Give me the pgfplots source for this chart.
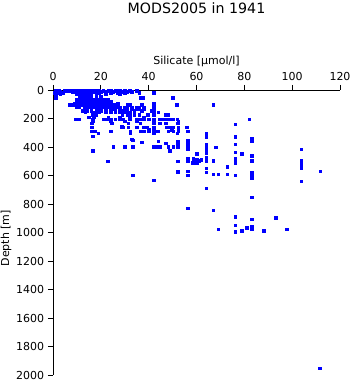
\documentclass[border=0pt]{standalone}
\usepackage{fontspec}
\setmainfont{DejaVu Sans}
\usepackage{pgfplots}
\pgfplotsset{compat=1.18}
\begin{document}
\fontsize{11bp}{13bp}\selectfont
\begin{tikzpicture}
\path[use as bounding box] (-53bp,-9bp) rectangle (298bp,375bp);
\begin{axis}[
  at={(0,0)}, anchor=south west,
  scale only axis, width=287bp, height=285bp,
  xmin=0, xmax=120, ymin=0, ymax=2000, y dir=reverse,
  axis x line*=top, axis y line*=left,
  axis line style={-, line width=0.9bp},
  every tick/.style={black, line width=0.9bp},
  tick align=outside, major tick length=5bp,
  xtick={0,20,...,120}, ytick={0,200,...,2000},
  /pgf/number format/assume math mode=true,
  /pgf/number format/1000 sep={},
  tick label style={font=\fontsize{11bp}{13bp}\selectfont},
  label style={font=\fontsize{11bp}{13bp}\selectfont},
  xlabel={Silicate [µmol/l]},
  ylabel={Depth [m]},
  xlabel style={at={(axis description cs:0.5,1)}, anchor=center, yshift=29bp},
  ylabel style={at={(axis description cs:-0.1638,0.48)}, anchor=center},
  title={MODS2005 in 1941},
  title style={font=\fontsize{14.2bp}{16bp}\selectfont, at={(axis description cs:0.5,1)}, anchor=center, yshift=82bp-6pt},
  clip=false,
]
\addplot[only marks, mark=square*, mark size=1.3bp, color=blue, mark options={draw=blue, fill=blue}] coordinates {
(1,3) (2.5,3) (5,3) (6,3) (7,3) (8,3) (9,3) (9.5,3) (10,3) (10.5,3) (11,3) (11.5,3) (12,3) (12.5,3) (13,3) (13.5,3) (14,3) (15,3) (16,3) (17,3) (18,3) (19,3) (21,3) (23,3) (24,3) (26,3) (27,3) (28,3) (30,3) (32,3) (35,3)
(1.5,10) (3,10) (8,10) (9,10) (10,10) (11,10) (12,10) (13,10) (14,10) (15,10) (16,10) (17,10) (20,10) (22,10) (25,10) (27,10) (29,10) (31,10) (33,10)
(0.5,20) (2,20) (4,20) (10,20) (11,20) (12,20) (13,20) (14,20) (15,20) (16,20) (19,20) (24,20) (27,20) (30,20) (36,20) (42,20)
(1,30) (3,30) (10,30) (11,30) (12,30) (13,30) (14,30) (15,30) (16,30) (18,30) (22,30) (28,30)
(1.3,45) (11,45) (12,45) (13,45) (14,45) (15,45) (16,45) (20,45)
(1.2,55) (11,55) (12.5,55) (14,55) (16,55) (18,55) (36.5,55) (37.5,55) (50,55)
(10,70) (11,70) (12,70) (13,70) (14,70) (15,70) (16,70) (17,70) (18,70) (19,70) (20,70) (21,70) (22,70) (23,70)
(11,82) (12,82) (13,82) (14,82) (15,82) (16,82) (17,82) (18,82) (19,82) (20,82) (21,82) (22,82) (23,82) (24,82)
(9,95) (10,95) (11,95) (12,95) (13,95) (14,95) (15,95) (16,95) (17,95) (18,95) (19,95) (20,95) (21,95) (22,95) (23,95) (24,95) (27,95) (42,95)
(7,105) (8,105) (9,105) (10,105) (11,105) (12,105) (13,105) (14,105) (15,105) (16,105) (17,105) (18,105) (19,105) (20,105) (21,105) (22,105) (23,105) (24,105) (25,105) (26,105) (31,105) (32,105) (37,105) (42,105) (51.7,105) (67,103)
(10,120) (11,120) (13,120) (15,120) (17,120) (19,120) (21,120) (23,120) (24,120) (26,120) (27,120) (28,120) (30,120) (31,120) (33,120) (35,120) (36,120) (38,120)
(14,133) (16,133) (18,133) (19,133) (20,133) (22,133) (24,133) (25,133) (26,133) (28,133) (30,133) (33,133) (35,133) (36,133) (38,133) (42,133)
(12.5,145) (14,145) (16,145) (18,145) (20,145) (22,145) (24,145) (26,145) (29,145) (31,145) (34,145) (37,145) (41,145)
(13.5,157) (16.5,157) (18,157) (19,157) (22,157) (24,157) (26,157) (28,157) (30,157) (32,157) (34,157) (42,157) (44,157)
(16.5,175) (18,175) (29,175) (31,175) (32,175) (34,175) (36,175) (39.5,175) (42,175) (47,175) (48,175)
(15,190) (17,190) (23,190) (28,190) (32,190) (38,190)
(9.2,204) (10,204) (11,204) (16.6,204) (21,204) (22.4,204) (24,204) (26,204) (28,204) (29.4,204) (32,204) (35,204) (36.4,204) (38,204) (40,204) (42,204) (44.7,204) (46,204) (47.5,204) (49,204) (50.3,204) (52,204) (82,206)
(16.6,220) (24,220) (30,220) (35,220) (42,220) (52.4,220)
(16.2,234) (24.5,234) (31.5,234) (36.4,234) (42,234) (44.7,234) (47.2,234) (52.1,234) (76.1,241)
(16.2,262) (28.7,257) (29.4,262) (31.5,262) (35,262) (37.8,262) (39.2,262) (42,262) (47.5,262) (48.9,262) (50.3,262) (52.4,262) (56,262)
(39.9,280) (42,280) (49.6,280) (52.4,280)
(16.2,290) (17.5,290) (24.2,290) (32.2,290) (36.4,290) (37.8,290) (39.9,290) (42.6,290) (44,290) (48.2,290) (50.3,290) (52.4,290) (56.2,290)
(18.9,304) (32.2,304) (42,304) (52,304) (64.1,304) (64.1,316) (16.6,323) (64.1,328) (76.1,328) (83,339)
(32.9,346) (33.3,351) (56.2,351) (44,360) (52.1,360) (83,360) (37.1,367) (56.2,367) (47.2,374) (56.2,374)
(52.1,381) (56.2,381) (64.1,381) (76.1,381)
(25.2,398) (30.1,398) (33.3,398) (42,398) (43.4,398) (44.7,398) (48.2,398) (50.3,398) (52.1,398) (56.2,398) (64.1,398) (68,402)
(56.2,416) (64.1,416) (103.8,416) (16.6,426) (48.9,426) (64.1,430) (76.1,437) (64.1,444) (60.1,449) (78.9,449) (83,459) (64.1,473)
(56.2,482) (58.7,482) (76.1,482) (60.1,491) (61.9,491) (64.1,491)
(56.2,496) (60.8,496) (67,496) (76.1,496) (83,496) (103.8,496) (22.8,501) (52.1,501) (64.1,501)
(58.3,510) (60.1,510) (76.1,510) (103.8,510) (58.3,515) (103.8,526) (72.9,538) (103.8,538) (64.1,550) (103.8,550)
(56.2,571) (111.7,571) (52.1,575) (64.1,578) (83,578) (67,590) (69.1,590) (72.9,590)
(33.3,597) (56.2,597) (76.1,597) (83,597) (83,615) (42.2,634) (103.8,641) (64.1,690) (83,753)
(56.2,830) (67,844) (76.1,891) (93,896) (83,908) (76.1,950) (83,959) (81,966)
(69.1,978) (83,978) (97.7,978) (78.9,989) (88,989) (76.1,994) (111.6,1951)
};
\end{axis}
\end{tikzpicture}
\end{document}
